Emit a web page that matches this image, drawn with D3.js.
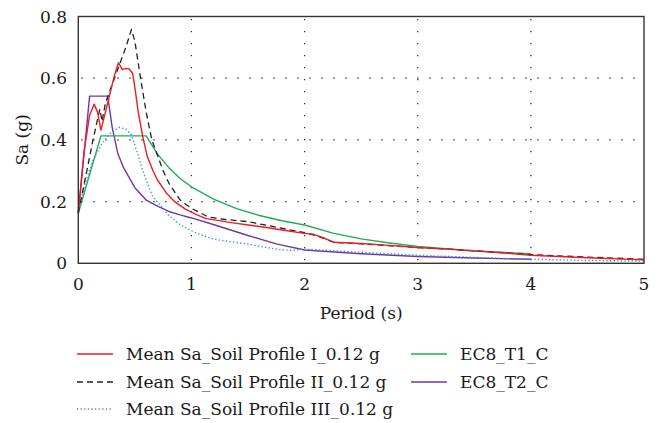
<!DOCTYPE html>
<html>
<head>
<meta charset="utf-8">
<script src="https://cdn.jsdelivr.net/npm/d3@7"></script>
<style>
  body { margin: 0; background: #fff; }
</style>
</head>
<body>
<div id="wrapper"></div>
<script>
const xTicks = [0, 1, 2, 3, 4, 5];
const yTicks = [0, 0.2, 0.4, 0.6, 0.8];

const profileIPeriod = [0, 0.05, 0.1, 0.14, 0.17, 0.2, 0.24, 0.28, 0.32, 0.355, 0.39, 0.42, 0.45, 0.48, 0.5, 0.53, 0.57, 0.61, 0.66, 0.7, 0.78, 0.85, 0.95, 1.05, 1.13, 1.22, 1.35, 1.5, 1.65, 1.8, 2.0, 2.08, 2.17, 2.26, 2.5, 2.75, 3.0, 3.3, 3.6, 4.0, 4.5, 5.0];
const profileISa = [0.163, 0.36, 0.48, 0.516, 0.49, 0.432, 0.49, 0.55, 0.61, 0.65, 0.628, 0.632, 0.63, 0.616, 0.57, 0.49, 0.41, 0.346, 0.3, 0.27, 0.227, 0.2, 0.175, 0.157, 0.145, 0.14, 0.132, 0.124, 0.117, 0.108, 0.097, 0.094, 0.082, 0.068, 0.064, 0.058, 0.051, 0.045, 0.038, 0.026, 0.018, 0.011];

const profileIIPeriod = [0, 0.07, 0.13, 0.19, 0.21, 0.24, 0.3, 0.36, 0.42, 0.47, 0.5, 0.55, 0.6, 0.65, 0.7, 0.75, 0.8, 0.9, 1.0, 1.15, 1.3, 1.5, 1.78, 2.0, 2.1, 2.26, 2.5, 3.0, 3.5, 4.0, 4.5, 5.0];
const profileIISa = [0.163, 0.29, 0.4, 0.5, 0.46, 0.52, 0.58, 0.64, 0.7, 0.758, 0.72, 0.6, 0.49, 0.4, 0.35, 0.3, 0.26, 0.205, 0.178, 0.15, 0.142, 0.135, 0.115, 0.099, 0.09, 0.068, 0.063, 0.051, 0.041, 0.028, 0.02, 0.013];

const profileIIIPeriod = [0, 0.06, 0.13, 0.21, 0.28, 0.36, 0.42, 0.47, 0.52, 0.57, 0.61, 0.66, 0.72, 0.8, 0.9, 1.0, 1.1, 1.2, 1.35, 1.5, 1.65, 1.8, 1.9, 2.0, 2.2, 2.4, 2.7, 3.0, 3.5, 4.0, 4.5, 5.0];
const profileIIISa = [0.163, 0.26, 0.335, 0.389, 0.42, 0.441, 0.435, 0.416, 0.36, 0.3, 0.26, 0.215, 0.19, 0.155, 0.125, 0.105, 0.09, 0.078, 0.07, 0.062, 0.052, 0.043, 0.042, 0.046, 0.042, 0.038, 0.032, 0.026, 0.019, 0.013, 0.009, 0.007];

const ec8T1Period = [0, 0.2, 0.6, 0.7, 0.8, 0.9, 1.0, 1.2, 1.4, 1.6, 1.8, 2.0, 2.25, 2.5, 2.75, 3.0, 3.5, 4.0];
const ec8T1Sa = [0.163, 0.413, 0.413, 0.354, 0.31, 0.275, 0.248, 0.207, 0.177, 0.155, 0.138, 0.124, 0.098, 0.079, 0.066, 0.055, 0.04, 0.031];

const ec8T2Period = [0, 0.1, 0.26, 0.3, 0.35, 0.4, 0.5, 0.6, 0.7, 0.8, 0.9, 1.0, 1.2, 1.5, 1.75, 2.0, 2.5, 3.0, 3.5, 4.0];
const ec8T2Sa = [0.163, 0.542, 0.542, 0.44, 0.355, 0.31, 0.245, 0.205, 0.185, 0.168, 0.157, 0.147, 0.125, 0.09, 0.063, 0.043, 0.031, 0.022, 0.017, 0.013];

const seriesNames = [
  "Mean Sa_Soil Profile I_0.12 g",
  "Mean Sa_Soil Profile II_0.12 g",
  "Mean Sa_Soil Profile III_0.12 g",
  "EC8_T1_C",
  "EC8_T2_C",
];

function drawChart() {
  const width = 664;
  const height = 423;
  const margin = { left: 78.3, top: 16.5 };
  const plotW = 644 - margin.left;
  const plotH = 263.3 - margin.top;
  const fontFamily = "DejaVu Serif";
  const fontSize = 17;

  const svg = d3
    .select("#wrapper")
    .append("svg")
    .attr("width", width)
    .attr("height", height)
    .style("font-family", fontFamily);

  const x = d3.scaleLinear().domain([0, 5]).range([margin.left, margin.left + plotW]);
  const y = d3.scaleLinear().domain([0, 0.8]).range([margin.top + plotH, margin.top]);

  const series = [
    { name: seriesNames[0], t: profileIPeriod, sa: profileISa, color: "#ec1c24", dash: null, w: 1.4 },
    { name: seriesNames[1], t: profileIIPeriod, sa: profileIISa, color: "#222222", dash: "6,4", w: 1.3 },
    { name: seriesNames[2], t: profileIIIPeriod, sa: profileIIISa, color: "#3b8fdb", dash: "1.3,2.3", w: 1.4 },
    { name: seriesNames[3], t: ec8T1Period, sa: ec8T1Sa, color: "#1fae4f", dash: null, w: 1.4 },
    { name: seriesNames[4], t: ec8T2Period, sa: ec8T2Sa, color: "#7236a3", dash: null, w: 1.4 },
  ];

  // grid (dotted, inner only)
  const grid = svg.append("g")
    .attr("stroke", "#222")
    .attr("stroke-width", 1.2)
    .attr("stroke-dasharray", "1.3,10.7");
  xTicks.slice(1, -1).forEach((t) => {
    grid.append("line")
      .attr("x1", x(t)).attr("x2", x(t))
      .attr("y1", y(0) - 3).attr("y2", y(0.8));
  });
  yTicks.slice(1, -1).forEach((v) => {
    grid.append("line")
      .attr("x1", x(0) + 3).attr("x2", x(5))
      .attr("y1", y(v)).attr("y2", y(v));
  });

  // curves
  const line = d3.line().x((d) => x(d[0])).y((d) => y(d[1]));
  series.slice().reverse().forEach((s) => {
    svg.append("path")
      .datum(s.t.map((t, i) => [t, s.sa[i]]))
      .attr("d", line)
      .attr("fill", "none")
      .attr("stroke", s.color)
      .attr("stroke-width", s.w)
      .attr("stroke-dasharray", s.dash)
      .attr("stroke-linejoin", "round");
  });

  // frame
  svg.append("rect")
    .attr("x", x(0)).attr("y", y(0.8))
    .attr("width", plotW).attr("height", plotH)
    .attr("fill", "none")
    .attr("stroke", "#333")
    .attr("stroke-width", 1.4);

  // tick labels
  svg.append("g")
    .selectAll("text")
    .data(xTicks)
    .join("text")
    .attr("x", (d) => x(d))
    .attr("y", y(0) + 27)
    .attr("text-anchor", "middle")
    .attr("font-size", fontSize)
    .attr("fill", "#1a1a1a")
    .text((d) => d);

  svg.append("g")
    .selectAll("text")
    .data(yTicks)
    .join("text")
    .attr("x", 67)
    .attr("y", (d) => y(d) + 6)
    .attr("text-anchor", "end")
    .attr("font-size", fontSize)
    .attr("fill", "#1a1a1a")
    .text((d) => (d === 0 ? "0" : d.toFixed(1)));

  svg.append("text")
    .attr("x", x(2.5))
    .attr("y", 319)
    .attr("text-anchor", "middle")
    .attr("font-size", fontSize)
    .attr("fill", "#1a1a1a")
    .text("Period (s)");

  svg.append("text")
    .attr("transform", `translate(28, ${y(0.4)}) rotate(-90)`)
    .attr("text-anchor", "middle")
    .attr("font-size", fontSize)
    .attr("fill", "#1a1a1a")
    .text("Sa (g)");

  // legend
  const legendPos = [
    [77, 354], [77, 382], [77, 409], [411, 354], [411, 382],
  ];
  const legend = svg.append("g")
    .selectAll("g")
    .data(series)
    .join("g")
    .attr("transform", (d, i) => `translate(${legendPos[i][0]}, ${legendPos[i][1]})`);

  legend.append("line")
    .attr("x1", 0).attr("x2", 36)
    .attr("stroke", (d) => d.color)
    .attr("stroke-width", (d) => d.w)
    .attr("stroke-dasharray", (d) => d.dash);

  legend.append("text")
    .attr("x", 49)
    .attr("y", 6)
    .attr("font-size", fontSize)
    .attr("fill", "#1a1a1a")
    .text((d) => d.name);
}

drawChart();
</script>
</body>
</html>
